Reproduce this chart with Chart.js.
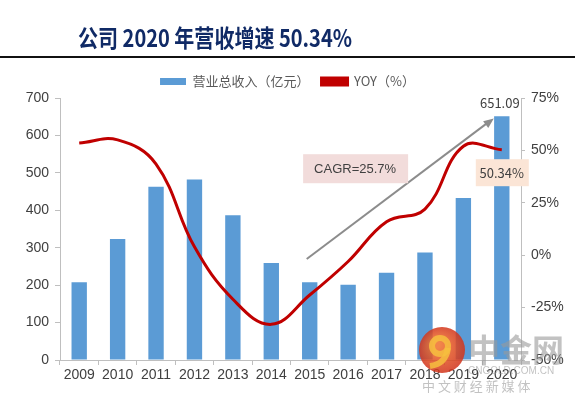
<!DOCTYPE html>
<html>
<head>
<meta charset="utf-8">
<script src="https://cdn.jsdelivr.net/npm/chart.js@4.4.1/dist/chart.umd.min.js"></script>
<style>
  html, body { margin: 0; padding: 0; background: #fff; }
  #wrap { width: 575px; height: 402px; position: relative; }
</style>
</head>
<body>
<div id="wrap"><canvas id="rev-chart"></canvas></div>
<script>
const years = ['2009','2010','2011','2012','2013','2014','2015','2016','2017','2018','2019','2020'];
const revenue = [208, 323, 463, 482, 387, 259, 208, 201, 233, 287, 433, 651.09];
const yoy = [53.5, 55, 43.5, 4, -21, -33, -19, -3, 16, 22, 52, 50.34];
const leftTicks = [0, 100, 200, 300, 400, 500, 600, 700];
const rightTicks = [-50, -25, 0, 25, 50, 75];

const titleText = '公司 2020 年营收增速 50.34%';
const cagrText = 'CAGR=25.7%';
const lastRevText = '651.09';
const lastYoyText = '50.34%';

const tickFont = { family: "'Liberation Sans Narrow', 'Liberation Sans', Arial, sans-serif", size: 14 };

// title, rule, arrow, boxes and watermark
const decor = {
  id: 'decor',
  beforeDraw(chart) {
    const c = chart.ctx;
    c.save();
    c.fillStyle = '#102A66';
    c.font = "bold 24px 'Noto Sans CJK SC', sans-serif";
    c.textBaseline = 'middle';
    c.fillText(titleText, 78, 38, 274);
    c.fillStyle = '#111';
    c.fillRect(0, 56, chart.width, 2);
    c.restore();
  },
  afterDatasetsDraw(chart) {
    const c = chart.ctx;
    const x = chart.scales.x, y = chart.scales.y, y1 = chart.scales.y1;
    const last = revenue.length - 1;
    c.save();

    // growth arrow
    const x0 = x.getPixelForValue(6) - 3, yA = y.getPixelForValue(270);
    const x1 = x.getPixelForValue(last) - 8, yB = y.getPixelForValue(645);
    c.strokeStyle = '#8C8C8C';
    c.fillStyle = '#8C8C8C';
    c.lineWidth = 2;
    c.beginPath();
    c.moveTo(x0, yA);
    c.lineTo(x1 - 6, yB + 4);
    c.stroke();
    const ang = Math.atan2(yB - yA, x1 - x0);
    c.beginPath();
    c.moveTo(x1, yB);
    c.lineTo(x1 - 11 * Math.cos(ang - 0.4), yB - 11 * Math.sin(ang - 0.4));
    c.lineTo(x1 - 11 * Math.cos(ang + 0.4), yB - 11 * Math.sin(ang + 0.4));
    c.closePath();
    c.fill();

    // CAGR box
    const cx = x.getPixelForValue(7) + 7;
    const cy = y1.getPixelForValue(41.5);
    c.fillStyle = '#F2DCDB';
    c.fillRect(cx - 52, cy - 14, 105, 29);
    c.fillStyle = '#404040';
    c.font = "13px 'Liberation Sans', Arial, sans-serif";
    c.textAlign = 'center';
    c.textBaseline = 'middle';
    c.fillText(cagrText, cx, cy + 1);

    // last-year labels
    const bx = x.getPixelForValue(last);
    const by = chart.getDatasetMeta(0).data[last].y;
    c.fillStyle = '#404040';
    c.font = "13px 'Noto Sans CJK SC', sans-serif";
    c.fillText(lastRevText, bx - 2, by - 13);

    const ly = y1.getPixelForValue(39.6);
    c.fillStyle = '#FBE5D6';
    c.fillRect(bx - 26, ly - 13, 53, 27);
    c.fillStyle = '#404040';
    c.fillText(lastYoyText, bx, ly + 1);
    c.restore();
  },
  afterDraw(chart) {
    const c = chart.ctx;
    c.save();
    // faint watermark
    c.globalAlpha = 0.85;
    const g = c.createRadialGradient(436, 344, 4, 442, 350, 24);
    g.addColorStop(0, '#F0702A');
    g.addColorStop(1, '#D0301A');
    c.fillStyle = g;
    c.beginPath();
    c.arc(442, 350, 23, 0, Math.PI * 2);
    c.fill();
    c.strokeStyle = '#F7C040';
    c.lineWidth = 6;
    c.beginPath();
    c.arc(440, 346, 8, 0, Math.PI * 2);
    c.stroke();
    c.beginPath();
    c.moveTo(448, 348);
    c.quadraticCurveTo(446, 364, 430, 366);
    c.stroke();
    c.globalAlpha = 0.6;
    c.fillStyle = '#9A9A9A';
    c.font = "bold 32px 'Noto Sans CJK SC', sans-serif";
    c.textBaseline = 'middle';
    c.fillText('中金网', 468, 350);
    c.font = "10px 'Liberation Sans', Arial, sans-serif";
    c.fillText('CNGOLD.COM.CN', 468, 371);
    c.font = "13px 'Noto Sans CJK SC', sans-serif";
    c.fillText('中 文 财 经 新 媒 体', 422, 386);
    c.restore();
  }
};

const revChart = new Chart(document.getElementById('rev-chart'), {
  type: 'bar',
  plugins: [decor],
  data: {
    labels: years,
    datasets: [
      {
        type: 'bar',
        label: '营业总收入（亿元）',
        data: revenue,
        backgroundColor: '#5B9BD5',
        borderWidth: 0,
        categoryPercentage: 1,
        barPercentage: 0.4,
        yAxisID: 'y',
        order: 1
      },
      {
        type: 'line',
        label: 'YOY（%）',
        data: yoy,
        borderColor: '#C00000',
        backgroundColor: '#C00000',
        borderWidth: 3,
        pointRadius: 0,
        tension: 0.4,
        yAxisID: 'y1',
        order: 0
      }
    ]
  },
  options: {
    responsive: true,
    maintainAspectRatio: false,
    animation: false,
    layout: { padding: { top: 63, left: 0, right: 0, bottom: 0 } },
    scales: {
      x: {
        offset: true,
        grid: { offset: true, drawOnChartArea: false, tickLength: 5, color: '#BFBFBF' },
        border: { color: '#BFBFBF' },
        ticks: { color: '#404040', font: tickFont, maxRotation: 0, padding: 2 },
        afterFit(s) { s.height = 42; }
      },
      y: {
        position: 'left',
        min: 0,
        max: 700,
        afterBuildTicks(s) { s.ticks = leftTicks.map(v => ({ value: v })); },
        grid: { drawOnChartArea: false, tickLength: 5, color: '#BFBFBF' },
        border: { color: '#BFBFBF' },
        ticks: { color: '#404040', font: tickFont, padding: 6 },
        afterFit(s) { s.width = 60; }
      },
      y1: {
        position: 'right',
        min: -50,
        max: 75,
        afterBuildTicks(s) { s.ticks = rightTicks.map(v => ({ value: v })); },
        grid: { drawOnChartArea: false, tickLength: 4, color: '#BFBFBF' },
        border: { color: '#BFBFBF' },
        ticks: { color: '#404040', font: tickFont, padding: 6, callback: v => v + '%' },
        afterFit(s) { s.width = 54; }
      }
    },
    plugins: {
      legend: {
        reverse: true,
        labels: {
          boxWidth: 26,
          boxHeight: 7,
          color: '#595959',
          font: { family: "'Noto Sans CJK SC', sans-serif", size: 13 },
          padding: 12
        }
      },
      tooltip: { enabled: false }
    }
  }
});
</script>
</body>
</html>
